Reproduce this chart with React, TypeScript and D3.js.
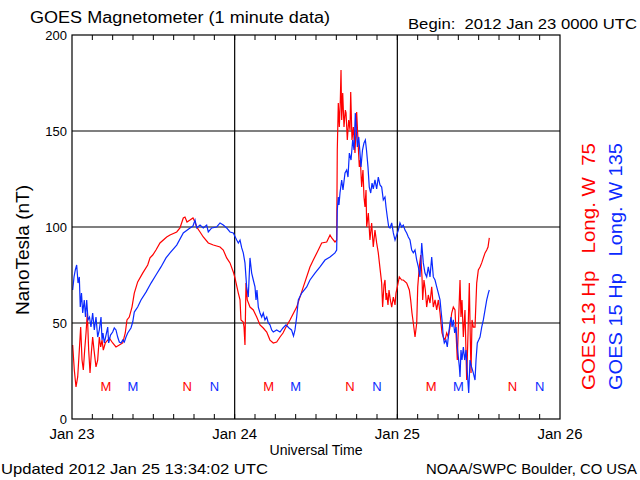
import React from 'react';
import * as d3 from 'd3';

// hours since 2012 Jan 23 00:00 UTC
const redTimes = [0.10,0.34,0.59,0.84,1.08,1.28,1.48,1.67,1.87,2.07,2.26,2.46,2.66,2.85,3.05,3.25,3.54,3.79,4.03,4.23,4.43,4.62,4.91,5.27,5.50,6.00,6.49,6.98,7.48,7.86,8.11,8.45,8.85,9.19,9.69,10.43,11.17,11.51,11.91,12.39,12.98,13.97,14.46,15.45,15.93,16.42,16.67,16.97,17.41,17.85,18.15,18.40,18.89,19.37,20.11,20.85,21.84,22.32,22.82,23.31,23.80,24.05,24.54,24.79,24.93,25.27,25.38,25.52,25.67,25.86,26.26,26.75,27.25,27.74,28.22,28.73,29.21,29.70,30.20,30.69,31.13,31.57,32.16,33.15,34.13,35.11,35.60,36.34,36.84,37.58,38.07,38.32,38.80,39.05,39.14,39.29,39.44,39.59,39.69,39.79,39.94,40.13,40.33,40.43,40.62,40.82,41.02,41.12,41.31,41.51,41.75,42.00,42.24,42.39,42.54,42.74,42.93,43.08,43.23,43.38,43.48,43.72,43.96,44.21,44.45,44.70,44.95,45.19,45.44,45.69,45.83,46.03,46.18,46.33,46.43,46.62,46.77,46.97,47.17,47.41,47.66,47.80,48.00,48.29,48.64,48.88,49.38,49.77,49.97,50.16,50.36,50.61,50.86,51.01,51.24,51.45,51.64,51.74,51.93,52.13,52.33,52.57,52.82,53.07,53.31,53.56,53.81,54.05,54.30,54.44,54.59,54.78,55.03,55.28,55.52,55.77,56.02,56.26,56.51,56.66,56.85,57.05,57.25,57.39,57.54,57.74,57.98,58.23,58.43,58.62,58.75,58.87,59.02,59.21,59.46,59.71,59.95,60.20,60.45,60.69,60.94,61.19,61.38,61.57];
const redNt = [38.5,25.5,16.7,21.9,35.9,47.9,30.7,25.5,35.9,44.8,55.2,35.9,24.0,34.4,42.7,35.9,27.1,30.7,42.7,37.5,41.1,35.9,39.6,41.1,42.2,39.6,37.5,38.5,39.6,44.8,51.6,53.1,58.3,65.6,71.4,76.0,80.2,83.9,85.4,88.0,91.7,94.8,95.8,97.4,99.5,104.7,105.2,102.6,103.6,104.7,102.6,100.0,97.4,94.8,91.7,90.6,89.6,88.0,83.9,81.3,76.6,73.4,65.6,62.0,51.6,50.5,47.9,38.5,70.8,62.0,58.3,56.8,53.1,49.0,47.4,45.3,41.1,39.6,40.1,42.7,44.8,47.9,51.6,58.3,68.8,79.2,82.8,88.0,91.7,92.2,95.8,94.3,92.2,93.2,140.1,164.6,152.1,166.1,181.8,155.7,169.8,152.1,160.9,159.4,145.3,155.7,150.5,170.3,145.3,152.1,138.5,159.9,141.7,131.3,134.9,120.8,129.7,115.6,110.4,119.3,100.0,107.3,93.2,102.1,89.6,98.4,91.7,86.5,78.6,70.8,58.3,69.8,72.4,62.0,65.6,59.4,67.2,62.0,58.3,63.5,59.4,65.6,68.8,74.0,72.4,72.4,70.8,67.2,62.0,55.2,50.0,42.7,50.0,68.8,79.2,85.4,74.0,62.0,72.4,67.2,58.3,64.6,60.4,68.8,58.3,62.0,56.8,62.0,55.2,50.0,44.8,42.7,41.1,44.8,42.7,47.9,55.2,58.3,56.8,44.8,30.7,53.1,72.4,53.1,62.0,42.7,56.8,20.3,44.8,70.8,44.8,24.0,51.6,47.9,47.9,70.8,77.6,79.2,81.3,83.9,86.5,88.0,89.6,94.3];

const blueTimes = [0.10,0.30,0.49,0.69,0.89,1.08,1.22,1.40,1.58,1.81,1.99,2.17,2.36,2.58,2.80,3.05,3.29,3.54,3.79,4.03,4.28,4.43,4.57,4.77,5.02,5.27,5.41,5.68,6.00,6.24,6.49,6.74,6.98,7.23,7.48,7.72,7.97,8.22,8.70,8.96,9.19,9.69,10.18,10.92,11.66,12.39,13.13,13.87,14.46,15.45,16.42,17.41,17.85,18.15,18.40,18.89,19.37,19.87,20.11,20.61,21.35,21.84,22.32,22.82,23.31,23.80,24.30,24.54,24.79,25.04,25.27,25.52,25.77,26.01,26.26,26.51,26.75,27.00,27.15,27.29,27.49,27.74,27.99,28.22,28.47,28.73,28.96,29.21,29.46,29.70,30.20,30.69,31.13,31.57,32.02,32.39,32.68,32.90,33.15,33.39,33.89,34.63,35.11,35.85,36.59,37.33,38.07,38.80,39.05,39.14,39.29,39.39,39.54,39.79,39.98,40.28,40.53,40.72,40.92,41.17,41.41,41.61,41.80,41.95,42.10,42.31,42.49,42.64,42.86,43.08,43.28,43.45,43.67,43.86,44.07,44.27,44.45,44.70,44.95,45.19,45.44,45.69,45.93,46.18,46.33,46.52,46.73,46.92,47.17,47.41,47.66,47.90,48.15,48.39,48.64,48.88,49.13,49.38,49.62,49.87,50.12,50.36,50.61,50.86,51.10,51.34,51.60,51.83,52.08,52.33,52.57,52.82,53.07,53.31,53.56,53.81,54.05,54.30,54.44,54.59,54.78,54.93,55.18,55.37,55.58,55.77,55.92,56.07,56.26,56.46,56.66,56.85,57.00,57.15,57.25,57.39,57.54,57.74,57.94,58.13,58.33,58.53,58.72,58.95,59.21,59.46,59.61,59.80,60.00,60.20,60.45,60.69,60.94,61.19,61.43,61.57];
const blueNt = [67.2,74.0,77.6,80.2,70.8,74.0,58.3,65.6,55.2,62.0,53.1,62.0,51.6,53.1,47.9,55.2,46.4,53.1,42.7,46.4,53.1,41.1,44.8,39.6,43.7,47.9,39.6,43.7,45.3,47.4,46.4,42.7,40.1,39.6,41.1,40.1,42.7,44.8,47.4,50.5,55.7,58.3,62.0,66.1,70.8,75.0,79.2,83.9,86.5,90.6,96.9,99.5,100.5,103.6,99.5,101.0,99.5,101.0,97.4,99.5,100.0,102.1,101.0,99.5,97.4,96.9,93.2,91.7,93.2,89.1,86.5,81.3,68.8,63.5,83.9,76.0,72.4,68.8,62.0,67.2,58.3,55.2,53.1,55.2,51.6,53.1,50.0,49.0,46.4,45.3,46.4,45.3,47.4,49.0,47.4,46.4,43.2,46.4,53.1,62.0,65.6,68.8,72.4,76.0,79.2,82.8,84.4,86.5,88.0,108.9,115.6,111.5,117.7,124.5,119.3,128.1,129.7,126.0,138.5,134.9,145.3,140.1,159.4,150.5,141.7,146.9,138.5,131.3,140.1,143.8,145.3,140.1,131.3,120.8,117.7,122.9,119.8,124.5,119.8,126.0,121.9,120.8,114.1,115.6,110.4,105.2,100.0,99.5,102.1,96.9,93.2,95.8,98.4,102.1,100.0,101.0,98.4,96.9,94.8,93.2,88.0,86.5,88.0,82.8,79.2,74.0,91.7,81.3,76.0,74.0,79.2,74.0,84.4,74.0,72.4,68.8,65.6,62.0,56.8,51.6,42.7,39.6,41.1,37.5,44.8,50.0,53.1,47.9,51.6,44.8,47.9,37.5,32.3,27.1,21.9,35.9,30.7,37.5,30.7,35.9,24.0,13.5,30.7,27.1,24.0,20.3,30.7,39.6,41.1,42.7,47.9,51.6,56.8,62.0,65.6,67.2];

const yTicks = [0, 50, 100, 150, 200];
const yGrid = [50, 100, 150];
const dayHours = [0, 24, 48, 72];
const dayLabels = ['Jan 23', 'Jan 24', 'Jan 25', 'Jan 26'];
const markerHours = [5, 9, 17, 21, 29, 33, 41, 45, 53, 57, 65, 69];
const markerLetters = ['M', 'M', 'N', 'N', 'M', 'M', 'N', 'N', 'M', 'M', 'N', 'N'];
const markerSeries = [0, 1, 0, 1, 0, 1, 0, 1, 0, 1, 0, 1];
const seriesColors = ['#ff0000', '#0a2aff'];
const seriesLabels = ['GOES 13 Hp   Long. W  75', 'GOES 15 Hp   Long. W 135'];

export default function App() {
  const left = 72, right = 560, top = 35, bottom = 419;
  const x = d3.scaleLinear().domain([0, 72]).range([left, right]);
  const y = d3.scaleLinear().domain([0, 200]).range([bottom, top]);
  const line = d3.line<[number, number]>().x(d => x(d[0])).y(d => y(d[1]));
  const redPts = redTimes.map((t, i) => [t, redNt[i]] as [number, number]);
  const bluePts = blueTimes.map((t, i) => [t, blueNt[i]] as [number, number]);
  const minor = d3.range(3, 72, 3);
  const font = 'Liberation Sans, Arial, sans-serif';

  return (
    <svg width={640} height={480} style={{ position: 'absolute', left: 0, top: 0, background: '#fff' }} fontFamily={font}>
      <rect x={0} y={0} width={640} height={480} fill="#fff" />
      {yGrid.map(v => (
        <line key={'g' + v} x1={left} x2={right} y1={y(v)} y2={y(v)} stroke="#000" strokeWidth={1.2} />
      ))}
      {dayHours.slice(1, 3).map(h => (
        <line key={'v' + h} x1={x(h)} x2={x(h)} y1={top} y2={bottom} stroke="#000" strokeWidth={1.2} />
      ))}
      {minor.map(h => (
        <g key={'t' + h}>
          <line x1={x(h)} x2={x(h)} y1={top} y2={top + 5} stroke="#000" strokeWidth={1} />
          <line x1={x(h)} x2={x(h)} y1={bottom} y2={bottom - 5} stroke="#000" strokeWidth={1} />
        </g>
      ))}
      <path d={line(redPts) || ''} fill="none" stroke={seriesColors[0]} strokeWidth={1.2} />
      <path d={line(bluePts) || ''} fill="none" stroke={seriesColors[1]} strokeWidth={1.2} />
      <rect x={left} y={top} width={right - left} height={bottom - top} fill="none" stroke="#000" strokeWidth={1.2} />
      {markerHours.map((h, i) => (
        <text key={'m' + i} x={x(h)} y={391} fontSize={13} textAnchor="middle" fill={seriesColors[markerSeries[i]]}>
          {markerLetters[i]}
        </text>
      ))}
      {yTicks.map(v => (
        <text key={'yl' + v} x={67} y={y(v) + 5} fontSize={13} textAnchor="end" fill="#000">{v}</text>
      ))}
      {dayHours.map((h, i) => (
        <text key={'xl' + h} x={x(h)} y={439} fontSize={14} textAnchor="middle" fill="#000" textLength={45} lengthAdjust="spacingAndGlyphs">{dayLabels[i]}</text>
      ))}
      <text x={316} y={455} fontSize={14} textAnchor="middle" fill="#000" textLength={93} lengthAdjust="spacingAndGlyphs">Universal Time</text>
      <text x={30} y={23} fontSize={16} fill="#000" textLength={300} lengthAdjust="spacingAndGlyphs">GOES Magnetometer (1 minute data)</text>
      <text x={408} y={29} fontSize={15} fill="#000" textLength={229} lengthAdjust="spacingAndGlyphs" style={{ whiteSpace: 'pre' }}>Begin:  2012 Jan 23 0000 UTC</text>
      <text x={1} y={474} fontSize={15} fill="#000" textLength={267} lengthAdjust="spacingAndGlyphs">Updated 2012 Jan 25 13:34:02 UTC</text>
      <text x={426} y={474} fontSize={15} fill="#000" textLength={211} lengthAdjust="spacingAndGlyphs">NOAA/SWPC Boulder, CO USA</text>
      <text transform="translate(29,250) rotate(-90)" fontSize={18} textAnchor="middle" fill="#000" textLength={130} lengthAdjust="spacingAndGlyphs">NanoTesla (nT)</text>
      {seriesLabels.map((s, i) => (
        <text key={'sl' + i} transform={`translate(${595 + i * 26.5},266.5) rotate(-90)`} fontSize={18} textAnchor="middle" fill={seriesColors[i]} textLength={247} lengthAdjust="spacingAndGlyphs" style={{ whiteSpace: 'pre' }}>{s}</text>
      ))}
    </svg>
  );
}
